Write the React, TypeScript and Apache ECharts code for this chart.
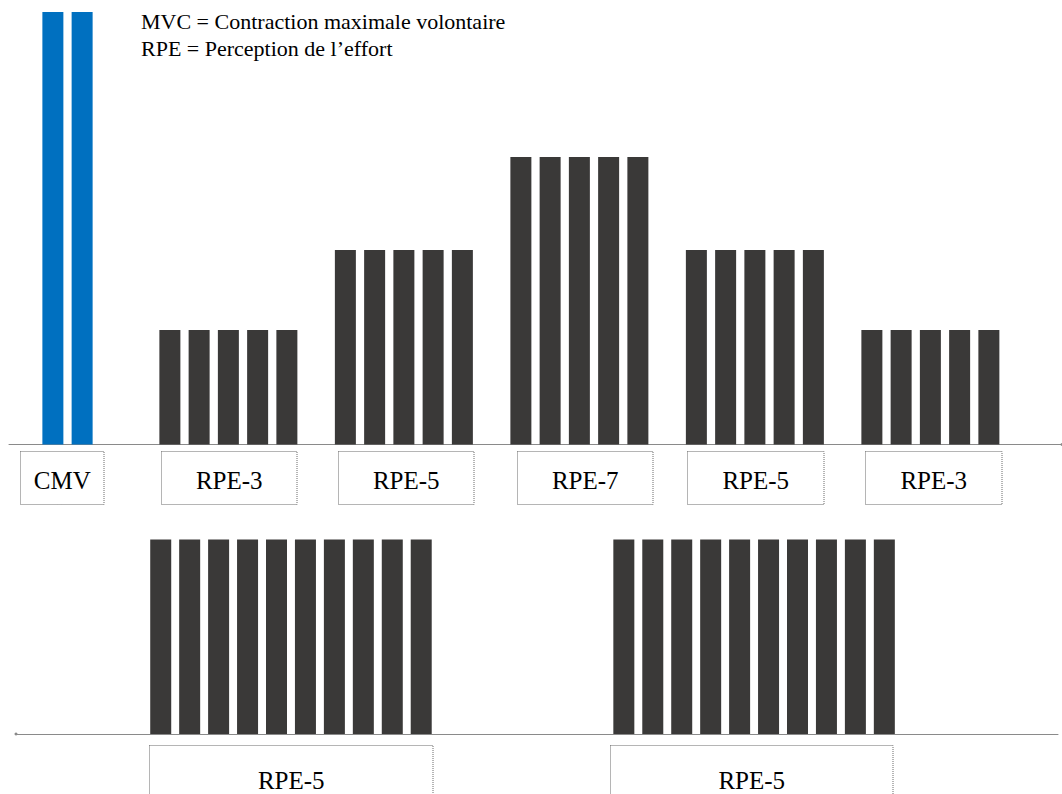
import React, { useEffect, useRef } from "react";
import * as echarts from "echarts";

// ---- data (values in % of maximal voluntary contraction) ----
const cmvBars = [100, 100];
const rpe3aBars = [26.5, 26.5, 26.5, 26.5, 26.5];
const rpe5aBars = [45, 45, 45, 45, 45];
const rpe7Bars = [66.5, 66.5, 66.5, 66.5, 66.5];
const rpe5bBars = [45, 45, 45, 45, 45];
const rpe3bBars = [26.5, 26.5, 26.5, 26.5, 26.5];
const bottomLeftBars = [45, 45, 45, 45, 45, 45, 45, 45, 45, 45];
const bottomRightBars = [45, 45, 45, 45, 45, 45, 45, 45, 45, 45];

const topLabels = ["CMV", "RPE-3", "RPE-5", "RPE-7", "RPE-5", "RPE-3"];
const bottomLabels = ["RPE-5", "RPE-5"];
const legendLines = ["MVC = Contraction maximale volontaire", "RPE = Perception de l\u2019effort"];

// ---- layout (empty category slots between groups) ----
const topGaps = [1, 2, 1, 1, 1, 1];
const topTrailing = 2;
const bottomGaps = [5, 6];
const bottomTrailing = 6;

const FONT = "Liberation Serif";
const BLUE = "#0070C0";
const DARK = "#3A3938";

function buildSlots(blocks: number[][], gaps: number[], trailing: number) {
  const values: (number | null)[] = [];
  const owner: number[] = [];
  blocks.forEach((b, bi) => {
    for (let g = 0; g < gaps[bi]; g++) {
      values.push(null);
      owner.push(-1);
    }
    b.forEach((v) => {
      values.push(v);
      owner.push(bi);
    });
  });
  for (let g = 0; g < trailing; g++) {
    values.push(null);
    owner.push(-1);
  }
  return { values, owner };
}

export default function App() {
  const ref = useRef<HTMLDivElement>(null);
  useEffect(() => {
    if (!ref.current) return;
    const chart = echarts.init(ref.current, null, { renderer: "svg" });

    const top = buildSlots(
      [cmvBars, rpe3aBars, rpe5aBars, rpe7Bars, rpe5bBars, rpe3bBars],
      topGaps,
      topTrailing
    );
    const bottom = buildSlots([bottomLeftBars, bottomRightBars], bottomGaps, bottomTrailing);

    const topCats = top.values.map((_, i) => "t" + i);
    const bottomCats = bottom.values.map((_, i) => "b" + i);

    const blueData = top.values.map((v, i) => (top.owner[i] === 0 ? v : null));
    const darkTopData = top.values.map((v, i) => (top.owner[i] > 0 ? v : null));

    const axisLineStyle = { color: "#8a8a8a", width: 1 };

    const boxStyle = {
      fill: "none",
      stroke: "#6a6a6a",
      lineWidth: 1,
      lineDash: [1, 1],
    };

    const topBoxes = [
      [20.5, 104],
      [161.5, 297],
      [338.5, 474],
      [517.5, 653],
      [687.5, 824],
      [865.5, 1002],
    ];
    const bottomBoxes = [
      [149.5, 433],
      [610.5, 893],
    ];

    const textStyle = (text: string, size: number, align: string) => ({
      text,
      fontFamily: FONT,
      fontSize: size,
      fill: "#000",
      align,
      verticalAlign: "middle",
    });

    const graphic: any[] = [];
    topBoxes.forEach(([x1, x2], i) => {
      graphic.push({
        type: "rect",
        shape: { x: x1, y: 451.5, width: x2 - x1, height: 53 },
        style: boxStyle,
        z: 10,
      });
      graphic.push({
        type: "text",
        x: (x1 + x2) / 2,
        y: 480,
        style: textStyle(topLabels[i], 25, "center"),
        z: 10,
      });
    });
    bottomBoxes.forEach(([x1, x2], i) => {
      graphic.push({
        type: "rect",
        shape: { x: x1, y: 745.5, width: x2 - x1, height: 70 },
        style: boxStyle,
        z: 10,
      });
      graphic.push({
        type: "text",
        x: (x1 + x2) / 2,
        y: 780,
        style: textStyle(bottomLabels[i], 25, "center"),
        z: 10,
      });
    });
    legendLines.forEach((t, i) => {
      graphic.push({
        type: "text",
        x: 141,
        y: 21 + i * 27,
        style: textStyle(t, 22, "left"),
        z: 10,
      });
    });

    chart.setOption({
      animation: false,
      backgroundColor: "#ffffff",
      grid: [
        { left: 9, width: 1053, top: 12, height: 432.5 },
        { left: 16, width: 1042, top: 301.5, height: 432.5 },
      ],
      xAxis: [
        {
          type: "category",
          gridIndex: 0,
          data: topCats,
          boundaryGap: true,
          axisTick: { show: false },
          axisLabel: { show: false },
          axisLine: {
            lineStyle: axisLineStyle,
            symbol: ["none", "circle"],
            symbolSize: [3, 3],
          },
        },
        {
          type: "category",
          gridIndex: 1,
          data: bottomCats,
          boundaryGap: false,
          axisTick: { show: false },
          axisLabel: { show: false },
          axisLine: {
            lineStyle: axisLineStyle,
            symbol: ["circle", "none"],
            symbolSize: [3, 3],
          },
        },
      ],
      yAxis: [
        { type: "value", gridIndex: 0, min: 0, max: 100, show: false, splitLine: { show: false } },
        { type: "value", gridIndex: 1, min: 0, max: 100, show: false, splitLine: { show: false } },
      ],
      series: [
        {
          type: "bar",
          xAxisIndex: 0,
          yAxisIndex: 0,
          data: blueData,
          barWidth: 21,
          barGap: "-100%",
          itemStyle: { color: BLUE },
          z: 2,
        },
        {
          type: "bar",
          xAxisIndex: 0,
          yAxisIndex: 0,
          data: darkTopData,
          barWidth: 21,
          barGap: "-100%",
          itemStyle: { color: DARK },
          z: 2,
        },
        {
          type: "bar",
          xAxisIndex: 1,
          yAxisIndex: 1,
          data: bottom.values,
          barWidth: 21,
          itemStyle: { color: DARK },
          z: 2,
        },
      ],
      graphic,
    });

    return () => chart.dispose();
  }, []);

  return (
    <div
      ref={ref}
      style={{ position: "fixed", left: 0, top: 0, width: 1062, height: 794, background: "#fff" }}
    />
  );
}
